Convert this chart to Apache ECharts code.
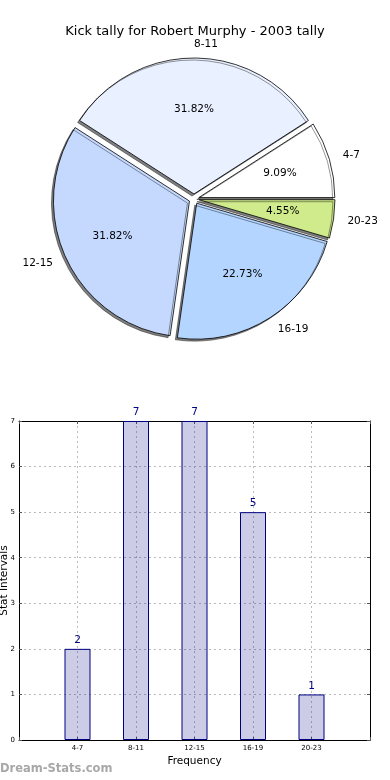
<!DOCTYPE html>
<html>
<head>
<meta charset="utf-8">
<script src="https://cdn.jsdelivr.net/npm/echarts@6/dist/echarts.min.js"></script>
<style>
html,body{margin:0;padding:0;background:#fff;}
#chart{width:390px;height:780px;}
</style>
</head>
<body>
<div id="chart"></div>
<script>
var titleText = 'Kick tally for Robert Murphy - 2003 tally';
var categories = ['4-7', '8-11', '12-15', '16-19', '20-23'];
var counts = [2, 7, 7, 5, 1];
var sliceColors = ['#ffffff', '#e9f0ff', '#c5d9ff', '#b3d5ff', '#d0eb8b'];
var yTicks = [0, 1, 2, 3, 4, 5, 6, 7];
var xAxisName = 'Frequency';
var yAxisName = 'Stat Intervals';
var watermark = 'Dream-Stats.com';

var FONT = 'DejaVu Sans';
var total = counts.reduce(function (a, b) { return a + b; }, 0);

var pieCenter = [194, 199];
var pieR = 136;

var pieData = categories.map(function (c, i) {
  return { name: c, value: counts[i], selected: true, itemStyle: { color: sliceColors[i] } };
});
var overlayData = categories.map(function (c, i) {
  return { name: c, value: counts[i], selected: true };
});
var barData = categories.map(function (c, i) { return [i + 1, counts[i]]; });

var chart = echarts.init(document.getElementById('chart'), null, { renderer: 'canvas' });

var sliceStyle = {
  borderColor: '#000',
  borderWidth: 0.8,
  shadowColor: 'rgba(0,0,0,0.5)',
  shadowBlur: 0,
  shadowOffsetX: -2,
  shadowOffsetY: 2
};

var axisLineStyle = { show: true, onZero: false, lineStyle: { color: '#000', width: 1 } };
var tickStyle = { show: true, inside: true, length: 3, lineStyle: { color: '#555' } };

chart.setOption({
  animation: false,
  backgroundColor: '#ffffff',
  title: [{
    text: titleText,
    left: 'center',
    top: 20,
    textStyle: { fontFamily: FONT, fontSize: 13, fontWeight: 'normal', color: '#000' }
  }],
  graphic: [{
    type: 'text',
    left: 0,
    top: 763,
    style: { text: watermark, fontFamily: FONT, fontSize: 11.5, fontWeight: 'bold', fill: '#a8a8a8' }
  }],
  grid: { left: 19, right: 20, top: 421, bottom: 40, show: false, containLabel: false, outerBoundsMode: 'none' },
  xAxis: [{
    type: 'value', min: 0, max: 6, interval: 1, position: 'bottom',
    name: xAxisName, nameLocation: 'middle', nameGap: 16, nameMoveOverlap: false,
    nameTextStyle: { fontFamily: FONT, fontSize: 10.5, color: '#000' },
    axisLine: axisLineStyle,
    axisTick: tickStyle,
    axisLabel: {
      fontFamily: FONT, fontSize: 7, color: '#000', margin: 5,
      formatter: function (v) { return categories[v - 1] || ''; }
    },
    splitLine: { show: true, lineStyle: { color: '#bbbbbb', type: [2, 3], width: 1 } }
  }, {
    type: 'value', min: 0, max: 6, interval: 1, position: 'top',
    axisLine: axisLineStyle,
    axisTick: tickStyle,
    axisLabel: { show: false },
    splitLine: { show: false }
  }],
  yAxis: [{
    type: 'value', min: yTicks[0], max: yTicks[yTicks.length - 1], interval: 1, position: 'left',
    name: yAxisName, nameLocation: 'middle', nameGap: 9, nameMoveOverlap: false,
    nameTextStyle: { fontFamily: FONT, fontSize: 10.5, color: '#000' },
    axisLine: axisLineStyle,
    axisTick: tickStyle,
    axisLabel: { fontFamily: FONT, fontSize: 7, color: '#000', margin: 4 },
    splitLine: { show: true, lineStyle: { color: '#bbbbbb', type: [2, 3], width: 1 } }
  }, {
    type: 'value', min: yTicks[0], max: yTicks[yTicks.length - 1], interval: 1, position: 'right',
    axisLine: axisLineStyle,
    axisTick: tickStyle,
    axisLabel: { show: false },
    splitLine: { show: false }
  }],
  series: [{
    type: 'pie',
    center: pieCenter,
    radius: pieR,
    startAngle: 0,
    clockwise: false,
    selectedMode: 'multiple',
    selectedOffset: 5,
    avoidLabelOverlap: false,
    data: pieData,
    itemStyle: sliceStyle,
    select: { itemStyle: sliceStyle },
    emphasis: { disabled: true, scale: false },
    label: {
      show: true, position: 'outside', formatter: '{b}',
      fontFamily: FONT, fontSize: 10.5, color: '#000',
      distanceToLabelLine: 0
    },
    labelLine: { show: false, length: 14, length2: 0 }
  }, {
    type: 'pie',
    center: pieCenter,
    radius: pieR * 1.2,
    startAngle: 0,
    clockwise: false,
    selectedMode: 'multiple',
    selectedOffset: 5,
    silent: true,
    avoidLabelOverlap: false,
    data: overlayData,
    itemStyle: { color: 'rgba(0,0,0,0)', borderWidth: 0 },
    select: { itemStyle: { color: 'rgba(0,0,0,0)', borderWidth: 0 } },
    emphasis: { disabled: true },
    label: {
      show: true, position: 'inside', rotate: 0,
      fontFamily: FONT, fontSize: 10.5, color: '#000',
      formatter: function (p) { return (p.value / total * 100).toFixed(2) + '%'; }
    },
    labelLine: { show: false }
  }, {
    type: 'bar',
    xAxisIndex: 0,
    yAxisIndex: 0,
    data: barData,
    barWidth: 26,
    itemStyle: { color: 'rgba(0,0,128,0.2)', borderColor: '#000080', borderWidth: 1 },
    label: {
      show: true, position: 'top', distance: 3,
      fontFamily: FONT, fontSize: 10.5, color: '#000080',
      formatter: function (p) { return String(p.value[1]); }
    },
    emphasis: { disabled: true }
  }]
});
</script>
</body>
</html>
